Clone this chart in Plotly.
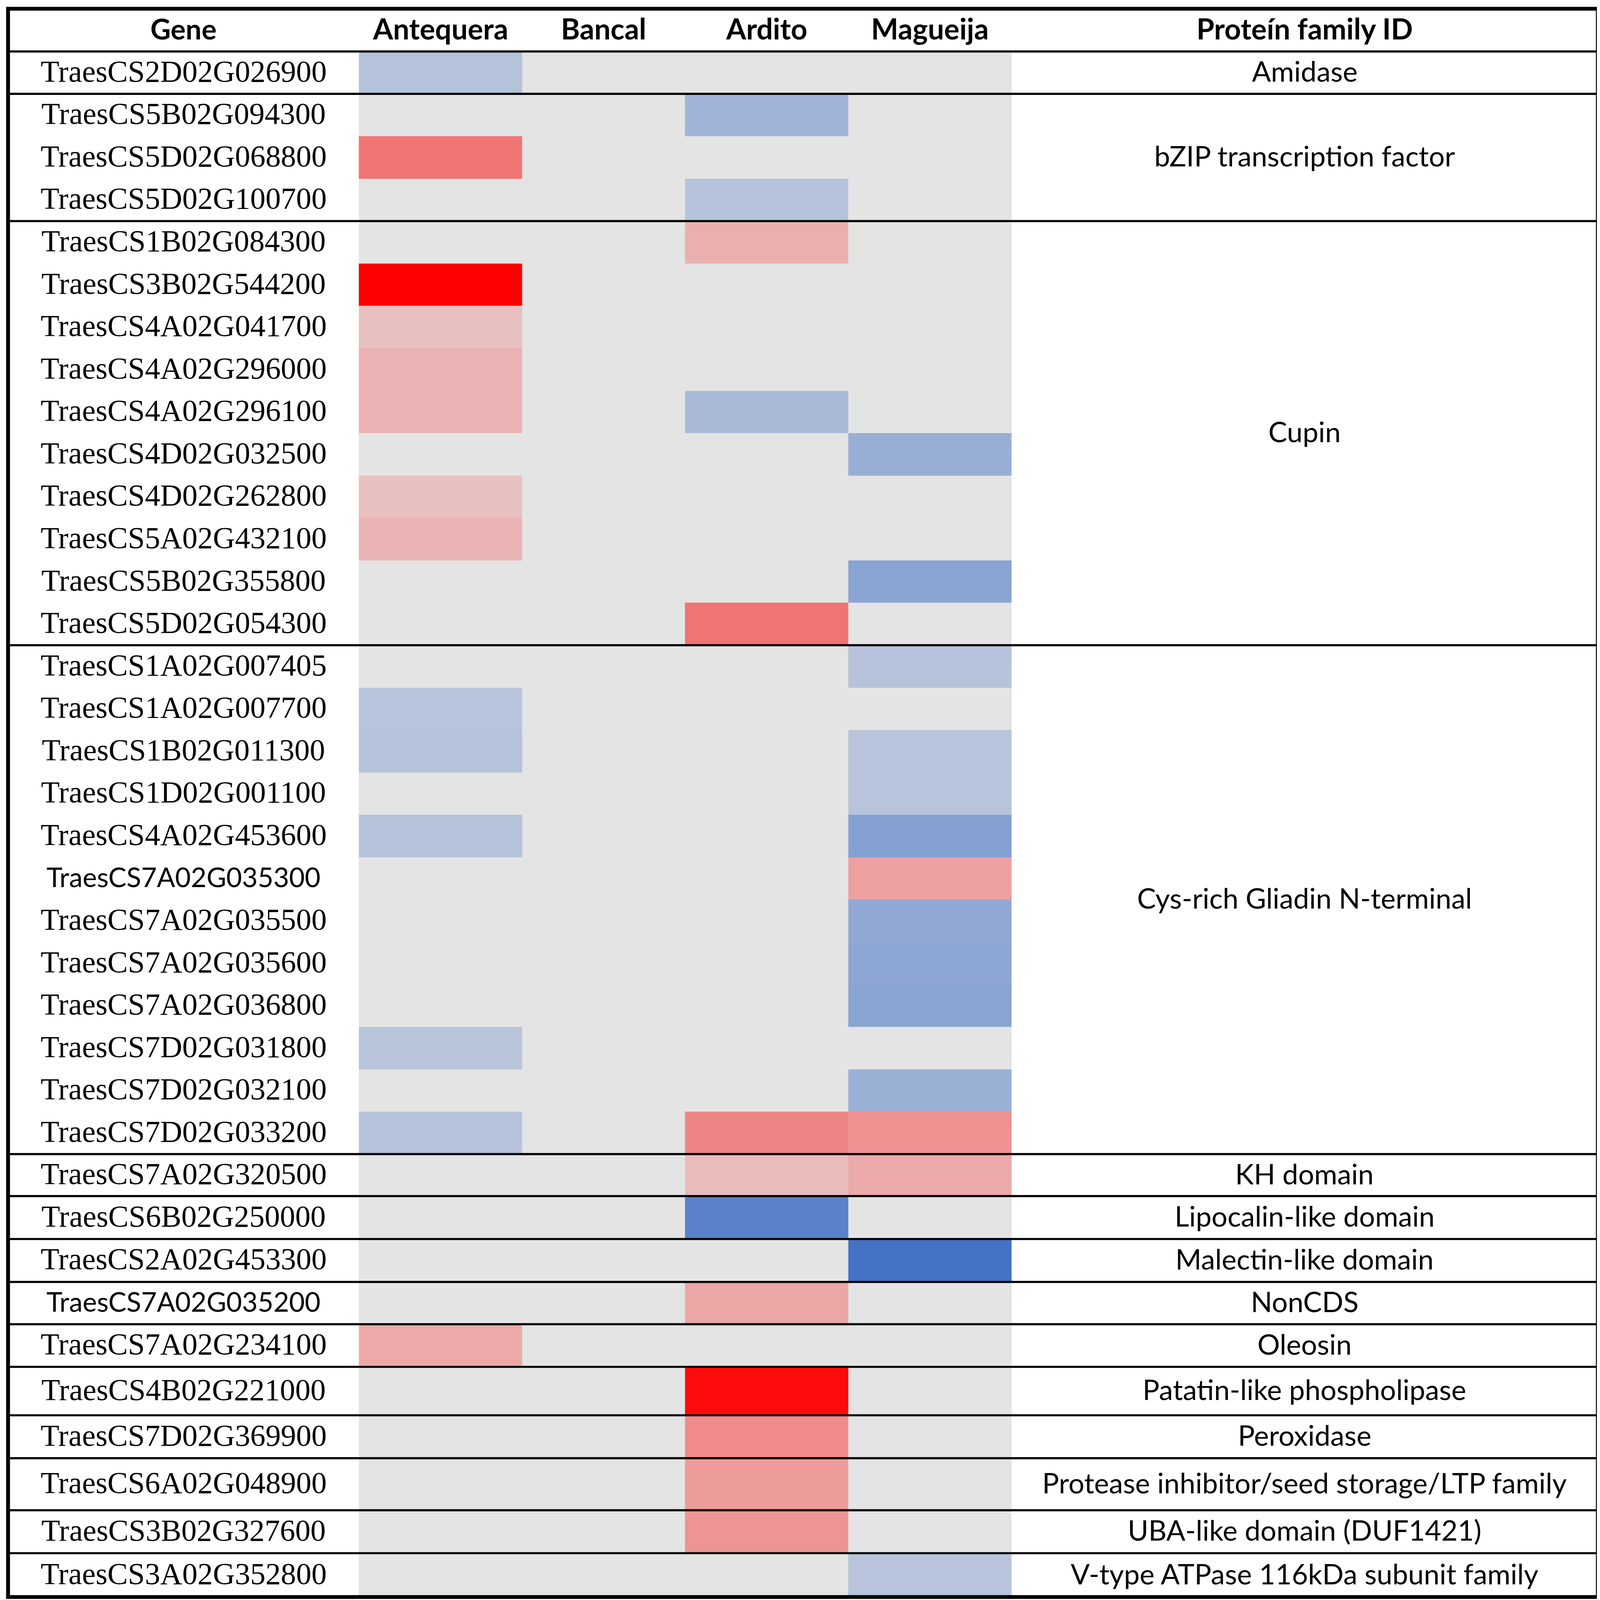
import plotly.graph_objects as go

cultivars = ["Antequera", "Bancal", "Ardito", "Magueija"]

genes = [
    "TraesCS2D02G026900",
    "TraesCS5B02G094300", "TraesCS5D02G068800", "TraesCS5D02G100700",
    "TraesCS1B02G084300", "TraesCS3B02G544200", "TraesCS4A02G041700",
    "TraesCS4A02G296000", "TraesCS4A02G296100", "TraesCS4D02G032500",
    "TraesCS4D02G262800", "TraesCS5A02G432100", "TraesCS5B02G355800",
    "TraesCS5D02G054300",
    "TraesCS1A02G007405", "TraesCS1A02G007700", "TraesCS1B02G011300",
    "TraesCS1D02G001100", "TraesCS4A02G453600", "TraesCS7A02G035300",
    "TraesCS7A02G035500", "TraesCS7A02G035600", "TraesCS7A02G036800",
    "TraesCS7D02G031800", "TraesCS7D02G032100", "TraesCS7D02G033200",
    "TraesCS7A02G320500", "TraesCS6B02G250000", "TraesCS2A02G453300",
    "TraesCS7A02G035200", "TraesCS7A02G234100", "TraesCS4B02G221000",
    "TraesCS7D02G369900", "TraesCS6A02G048900", "TraesCS3B02G327600",
    "TraesCS3A02G352800",
]

families = [
    "Amidase", "bZIP transcription factor", "Cupin", "Cys-rich Gliadin N-terminal",
    "KH domain", "Lipocalin-like domain", "Malectin-like domain", "NonCDS",
    "Oleosin", "Patatin-like phospholipase", "Peroxidase",
    "Protease inhibitor/seed storage/LTP family", "UBA-like domain (DUF1421)",
    "V-type ATPase 116kDa subunit family",
]
family_sizes = [1, 3, 10, 12, 1, 1, 1, 1, 1, 1, 1, 1, 1, 1]

# relative expression (negative = blue, positive = red, None = no change)
antequera = [-0.30, None, 0.49, None, None, 1.00, 0.16, 0.22, 0.22, None,
             0.16, 0.21, None, None, None, -0.28, -0.30, None, -0.30, None,
             None, None, None, -0.27, None, -0.29, None, None, None, None,
             0.26, None, None, None, None, None]
bancal = [None] * 36
ardito = [None, -0.42, None, -0.29, 0.23, None, None, None, -0.37, None,
          None, None, None, 0.49, None, None, None, None, None, None,
          None, None, None, None, None, 0.42, 0.18, -0.86, None, 0.27,
          None, 0.95, 0.39, 0.32, 0.35, None]
magueija = [None, None, None, None, None, None, None, None, None, -0.47,
            None, None, -0.57, None, -0.29, None, -0.28, -0.28, -0.60, 0.30,
            -0.525, -0.54, -0.57, None, -0.46, 0.36, 0.26, None, -1.00, None,
            None, None, None, None, None, -0.28]

sans_genes = {"TraesCS7A02G035300", "TraesCS7A02G035200"}

# ---- geometry, in reference pixels (4550 x 4288 picture) ----
REF_W, REF_H = 4550, 4288
FIG_W, FIG_H = 4096, 4096          # browser viewport is capped at 4096
S = FIG_W / REF_W                  # font / line scale

left, right, top = 14, 4535, 15
header_bottom = 129.5
data_x0, col_w = 1011.5, 464
row_h = [113.66] * 26 + [112.5, 115, 115, 113.4, 114.2, 129.8, 115, 139.6, 115, 117.5]

y_edges = [header_bottom]
for h in row_h:
    y_edges.append(y_edges[-1] + h)
bottom = y_edges[-1]
x_edges = [data_x0 + col_w * i for i in range(len(cultivars) + 1)]
y_mid = [(y_edges[i] + y_edges[i + 1]) / 2 for i in range(len(genes))]
gene_x = (left + data_x0) / 2
fam_x = (x_edges[-1] + right) / 2

z = []
for i in range(len(genes)):
    z.append([0 if v is None else v for v in (antequera[i], bancal[i], ardito[i], magueija[i])])

fig = go.Figure()
fig.add_trace(go.Heatmap(
    z=z, x=x_edges, y=y_edges,
    colorscale=[[0, "#4472C4"], [0.5, "#E4E4E4"], [1, "#FF0000"]],
    zmin=-1, zmax=1, showscale=False, hoverinfo="skip",
))

ann = []
sans = "Lato, 'Open Sans', sans-serif"
serif = "'Liberation Serif', 'Times New Roman', serif"

# header
hdr_y = 68
ann.append(dict(x=gene_x, y=hdr_y, text="<b>Gene</b>", font=dict(family=sans, size=80 * S)))
for j, c in enumerate(cultivars):
    ann.append(dict(x=(x_edges[j] + x_edges[j + 1]) / 2, y=hdr_y, text="<b>%s</b>" % c,
                    font=dict(family=sans, size=82 * S)))
ann.append(dict(x=fam_x, y=hdr_y, text="<b>Proteín family ID</b>", font=dict(family=sans, size=82 * S)))

for g, ym in zip(genes, y_mid):
    if g in sans_genes:
        ann.append(dict(x=gene_x, y=ym - 5, text=g, font=dict(family=sans, size=77 * S)))
    else:
        ann.append(dict(x=gene_x, y=ym - 4, text=g, font=dict(family=serif, size=87 * S)))

shapes = []
k = 0
for fam, n in zip(families, family_sizes):
    y0, y1 = y_edges[k], y_edges[k + n]
    ann.append(dict(x=fam_x, y=(y0 + y1) / 2 - 5, text=fam, font=dict(family=sans, size=80 * S)))
    shapes.append(dict(type="line", x0=left, x1=right, y0=y0, y1=y0,
                       line=dict(color="black", width=6 * S)))
    k += n

shapes.append(dict(type="rect", x0=left, x1=right, y0=top, y1=bottom,
                   line=dict(color="black", width=11 * S)))

for a in ann:
    a.update(xref="x", yref="y", showarrow=False, xanchor="center", yanchor="middle")
    a["font"]["color"] = "black"

fig.update_layout(
    width=FIG_W, height=FIG_H,
    margin=dict(l=0, r=0, t=0, b=0, autoexpand=False),
    paper_bgcolor="white", plot_bgcolor="white",
    xaxis=dict(range=[0, REF_W], visible=False, fixedrange=True),
    yaxis=dict(range=[REF_H, 0], visible=False, fixedrange=True),
    annotations=ann, shapes=shapes,
    showlegend=False,
)

fig.write_html("out.html")
